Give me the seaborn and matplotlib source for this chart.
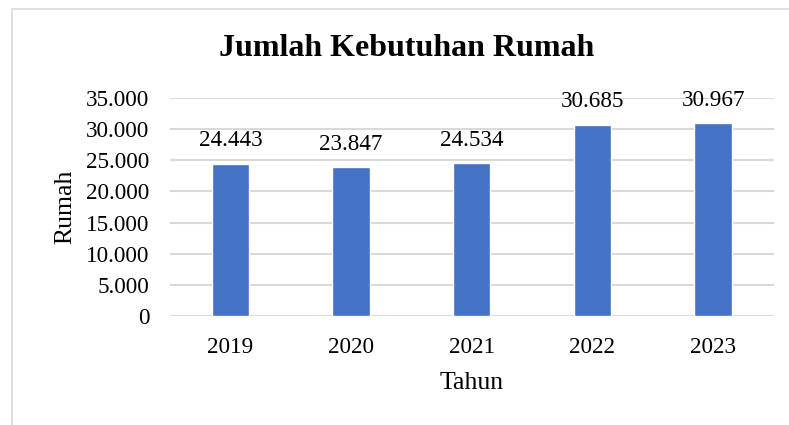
import matplotlib
matplotlib.use("Agg")
import matplotlib.pyplot as plt
from matplotlib.ticker import FuncFormatter
from matplotlib.patches import Rectangle
import seaborn as sns
import pandas as pd

years = ["2019", "2020", "2021", "2022", "2023"]
values = [24443, 23847, 24534, 30685, 30967]
title = "Jumlah Kebutuhan Rumah"
xlabel = "Tahun"
ylabel = "Rumah"

df = pd.DataFrame({"Tahun": years, "Rumah": values})

sns.set_theme(style="white")
plt.rcParams["font.family"] = ["Liberation Serif", "DejaVu Serif"]

fig = plt.figure(figsize=(7.89, 4.25), dpi=100)
ax = fig.add_axes([170/789, 1-316/425, (773.5-170)/789, (316-98)/425])

sns.barplot(data=df, x="Tahun", y="Rumah", color="#4472C4", width=0.31,
            saturation=1, ax=ax, zorder=3)

ax.set_ylim(0, 35000)
ax.set_yticks(range(0, 35001, 5000))
fmt = lambda v, p: f"{int(v):,}".replace(",", ".")
ax.yaxis.set_major_formatter(FuncFormatter(fmt))
ax.grid(axis="y", color="#D9D9D9", linewidth=1.5, zorder=0)
ax.set_axisbelow(True)
for s in ax.spines.values():
    s.set_visible(False)
ax.tick_params(axis="both", length=0, labelsize=16.7, colors="black")
ax.tick_params(axis="y", pad=15)
ax.tick_params(axis="x", pad=15)

for i, v in enumerate(values):
    ax.annotate(fmt(v, None), (i, v), xytext=(0, 9), textcoords="offset points",
                ha="center", va="bottom", fontsize=16.7, color="black")

ax.set_xlabel(xlabel, fontsize=18.5, color="black", labelpad=10)
ax.set_ylabel(ylabel, fontsize=18.5, color="black", labelpad=7)
fig.text(407/789, 1-49/425, title, ha="center", va="center", fontsize=23,
         fontweight="bold", color="black")

fig.patches.append(Rectangle((12/789, -0.05), 1.1, 1.05 - 9/425, transform=fig.transFigure,
                             fill=False, edgecolor="#D9D9D9", linewidth=1.2))

fig.savefig("out.png", dpi=100)
